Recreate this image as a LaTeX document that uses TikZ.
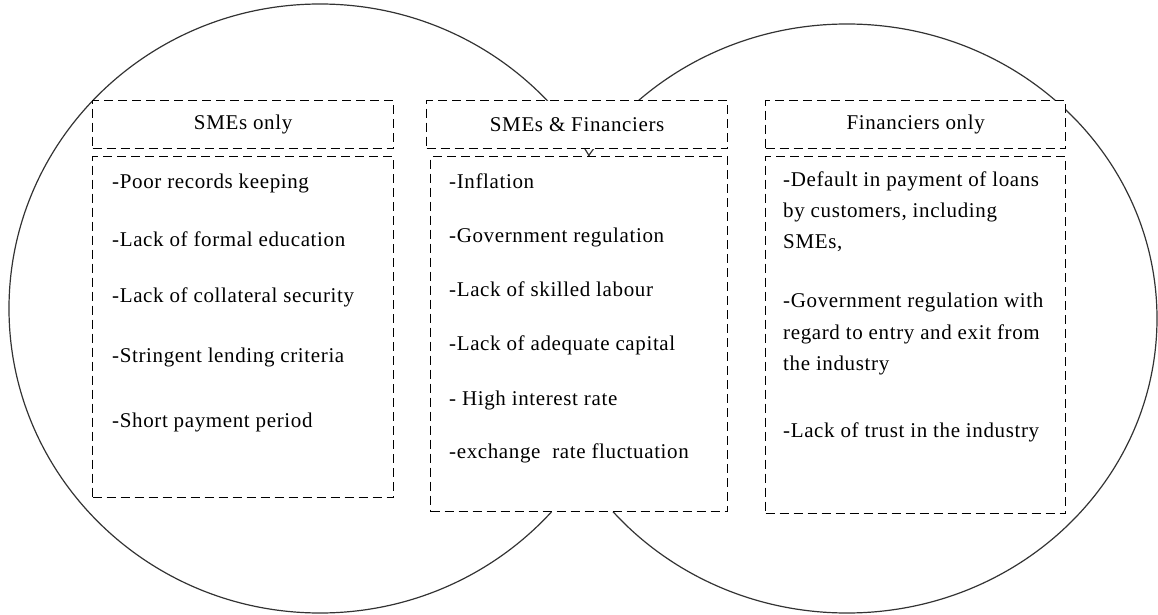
\documentclass[tikz,border=0pt]{standalone}
\usepackage{fontspec}
\setmainfont[LetterSpace=3]{Liberation Serif}
\begin{document}
\begin{tikzpicture}[x=1bp,y=-1bp,
  ring/.style={draw=black!80, line width=1.2bp},
  dbox/.style={draw=black, fill=white, line width=1.3bp,
    dash pattern=on 9bp off 5bp, anchor=north west, inner sep=0pt},
  headbox/.style={dbox, minimum height=48bp},
  item/.style={anchor=base west, inner sep=0pt},
  every node/.append style={font=\fontsize{21bp}{31bp}\selectfont}
]
\useasboundingbox (0,0) rectangle (1158,615);

% the two overlapping sets
\draw[ring] (320,308.5) ellipse [x radius=311, y radius=304.5];
\draw[ring] (847,318.5) ellipse [x radius=310, y radius=294.5];

% column headers
\node[headbox, minimum width=301bp] (hA) at (92,100)  {SMEs only};
\node[headbox, minimum width=301bp] (hB) at (426,100) {SMEs \& Financiers};
\node[headbox, minimum width=300bp] (hC) at (765,100) {Financiers only};

% column bodies
\node[dbox, minimum width=301bp, minimum height=341bp] (bA) at (92,156)  {};
\node[dbox, minimum width=297bp, minimum height=355bp] (bB) at (430,156) {};
\node[dbox, minimum width=300bp, minimum height=357bp] (bC) at (765,156) {};

% SMEs only
\node[item] (a1) at (112,189) {-Poor records keeping};
\node[item] (a2) at (112,247) {-Lack of formal education};
\node[item] (a3) at (112,303) {-Lack of collateral security};
\node[item] (a4) at (112,362) {-Stringent lending criteria};
\node[item] (a5) at (112,427) {-Short payment period};

% SMEs & Financiers
\node[item] (b1) at (449,189) {-Inflation};
\node[item] (b2) at (449,243) {-Government regulation};
\node[item] (b3) at (449,297) {-Lack of skilled labour};
\node[item] (b4) at (449,350) {-Lack of adequate capital};
\node[item] (b5) at (449,405) {- High interest rate};
\node[item] (b6) at (449,458) {-exchange\ \ rate fluctuation};

% Financiers only
\node[item] (c1) at (783,187) {-Default in payment of loans};
\node[item] (c2) at (783,218) {by customers, including};
\node[item] (c3) at (783,249) {SMEs,};
\node[item] (c4) at (783,308) {-Government regulation with};
\node[item] (c5) at (783,340) {regard to entry and exit from};
\node[item] (c6) at (783,370) {the industry};
\node[item] (c7) at (783,437) {-Lack of trust in the industry};
\end{tikzpicture}
\end{document}
